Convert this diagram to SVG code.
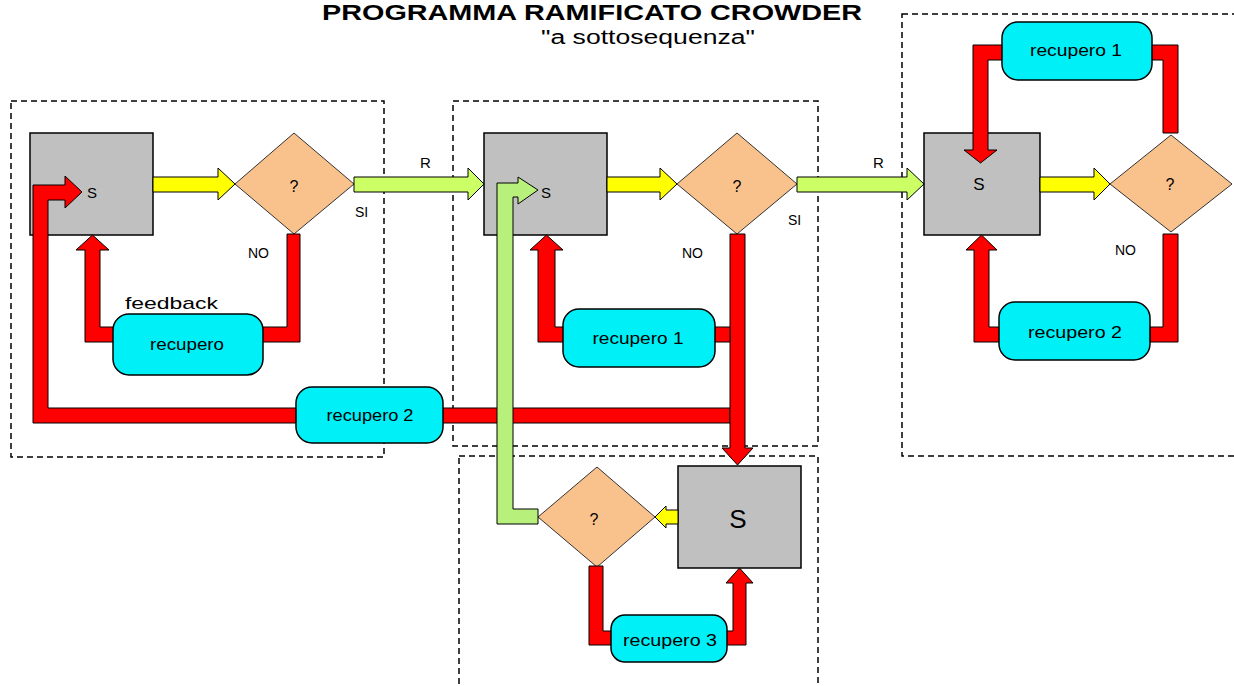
<svg xmlns="http://www.w3.org/2000/svg" width="1234" height="686" viewBox="0 0 1234 686">
<style>
.frame{fill:none;stroke:#000;stroke-width:1.5;stroke-dasharray:6 4}
.proc{fill:#c0c0c0;stroke:#000;stroke-width:1.5}
.dec{fill:#f9c28c;stroke:#333;stroke-width:1}
.rec{fill:#00f0f8;stroke:#000;stroke-width:1.5}
.red{fill:#ff0000;stroke:#000;stroke-width:1}
.yel{fill:#ffff00;stroke:#000;stroke-width:1}
.grn{fill:#ccff66;stroke:#000;stroke-width:1}
.grn2{fill:#b8f07c;stroke:#000;stroke-width:1}
text{font-family:"Liberation Sans",Arial,sans-serif;fill:#000}
.lbl{font-size:14px}
.rt{font-size:16px;text-anchor:middle}
.q{font-size:16px;text-anchor:middle}
</style>
<rect width="1234" height="686" fill="#fff"/>
<g id="title">
<text x="592" y="20" font-size="22" font-weight="bold" text-anchor="middle" textLength="540" lengthAdjust="spacingAndGlyphs">PROGRAMMA RAMIFICATO CROWDER</text>
<text x="648" y="44" font-size="20" text-anchor="middle" textLength="214" lengthAdjust="spacingAndGlyphs">"a sottosequenza"</text>
</g>
<g id="frames">
<rect class="frame" x="11" y="101" width="373" height="356"/>
<rect class="frame" x="453" y="101" width="365" height="345"/>
<rect class="frame" x="459" y="456" width="359" height="240"/>
<rect class="frame" x="902" y="14" width="340" height="442"/>
</g>
<g id="S1"><rect class="proc" x="30" y="133" width="123" height="102"/><text x="92" y="198" font-size="15" text-anchor="middle">S</text></g>
<g id="D1"><polygon class="dec" points="235,184 294,133 354,184 294,234"/><text class="q" x="294" y="192">?</text></g>
<g id="S2"><rect class="proc" x="484" y="133" width="123" height="102"/><text x="546" y="198" font-size="15" text-anchor="middle">S</text></g>
<g id="D2"><polygon class="dec" points="677,184 737,133 797,184 737,234"/><text class="q" x="737" y="192">?</text></g>
<g id="S4"><rect class="proc" x="924" y="133" width="116" height="102"/><text x="979" y="190" font-size="17" text-anchor="middle">S</text></g>
<g id="D4"><polygon class="dec" points="1110,184 1171,135 1232,184 1171,232"/><text class="q" x="1170" y="190">?</text></g>
<g id="S3"><rect class="proc" x="678" y="466" width="123" height="102"/><text x="738" y="528" font-size="26" text-anchor="middle">S</text></g>
<g id="D3"><polygon class="dec" points="538,517 597,467 655,517 597,567"/><text class="q" x="594" y="525">?</text></g>
<g id="connectors">
<polygon class="red" points="287,234 300,234 300,342 258,342 258,327 287,327"/>
<polygon class="red" points="120,342 85,342 85,250 76,250 92.5,235 109,250 100,250 100,327 120,327"/>
<polygon class="red" points="300,408 48,408 48,200 65,200 65,208 82,192 65,176 65,185 33,185 33,423 300,423"/>
<polygon class="red" points="438,408 730,408 730,423 438,423"/>
<polygon class="red" points="730,234 745,234 745,448 753,448 737.5,465 722,448 730,448"/>
<polygon class="red" points="710,327 730,327 730,342 710,342"/>
<polygon class="red" points="570,342 538,342 538,250 530,250 546.5,235 563,250 555,250 555,327 570,327"/>
<polygon class="red" points="589,566 603,566 603,631 616,631 616,645 589,645"/>
<polygon class="red" points="722,645 746,645 746,583 753,583 739.5,568 726,583 733,583 733,631 722,631"/>
<polygon class="red" points="1163,133 1163,60 1148,60 1148,45 1178,45 1178,133"/>
<polygon class="red" points="1006,45 973,45 973,150 964,150 980.5,163 997,150 988,150 988,60 1006,60"/>
<polygon class="red" points="1163,234 1178,234 1178,342 1146,342 1146,327 1163,327"/>
<polygon class="red" points="1004,342 974,342 974,250 966,250 981.5,235 997,250 989,250 989,327 1004,327"/>
<polygon class="yel" points="153,177 218,177 218,168 235,184 218,200 218,192 153,192"/>
<polygon class="yel" points="607,177 660,177 660,168 677,184 660,200 660,192 607,192"/>
<polygon class="yel" points="1040,177 1094,177 1094,168 1110,184 1094,200 1094,192 1040,192"/>
<polygon class="yel" points="678,510 666,510 666,506 655,517 666,528 666,524 678,524"/>
<polygon class="grn" points="354,177 468,177 468,168 484,184 468,200 468,192 354,192"/>
<polygon class="grn" points="797,177 907,177 907,168 924,184 907,200 907,192 797,192"/>
<polygon class="grn2" points="538,524 497,524 497,183 518,183 518,177 538,190 518,204 518,197 513,197 513,509 538,509"/>
</g>
<g id="REC_A"><rect class="rec" x="113" y="314" width="150" height="61" rx="16"/><text class="rt" x="187" y="350" textLength="74" lengthAdjust="spacingAndGlyphs">recupero</text></g>
<g id="REC_B"><rect class="rec" x="296" y="387" width="147" height="56" rx="16"/><text class="rt" x="370" y="421" textLength="87" lengthAdjust="spacingAndGlyphs">recupero 2</text></g>
<g id="REC_C"><rect class="rec" x="563" y="309" width="152" height="58" rx="16"/><text class="rt" x="638" y="344" textLength="91" lengthAdjust="spacingAndGlyphs">recupero 1</text></g>
<g id="REC_D"><rect class="rec" x="611" y="615" width="116" height="47" rx="14"/><text class="rt" x="670" y="646" textLength="94" lengthAdjust="spacingAndGlyphs">recupero 3</text></g>
<g id="REC_E"><rect class="rec" x="1002" y="22" width="150" height="58" rx="16"/><text class="rt" x="1076" y="56" textLength="92" lengthAdjust="spacingAndGlyphs">recupero 1</text></g>
<g id="REC_F"><rect class="rec" x="999" y="302" width="151" height="58" rx="16"/><text class="rt" x="1075" y="338" textLength="94" lengthAdjust="spacingAndGlyphs">recupero 2</text></g>
<g id="labels">
<text x="125" y="309" font-size="17" textLength="93" lengthAdjust="spacingAndGlyphs">feedback</text>
<text class="lbl" x="248" y="258">NO</text>
<text class="lbl" x="682" y="258">NO</text>
<text class="lbl" x="1115" y="255">NO</text>
<text class="lbl" x="355" y="217">SI</text>
<text class="lbl" x="788" y="225">SI</text>
<text x="420" y="168" font-size="15">R</text>
<text x="873" y="168" font-size="15">R</text>
</g>
</svg>
